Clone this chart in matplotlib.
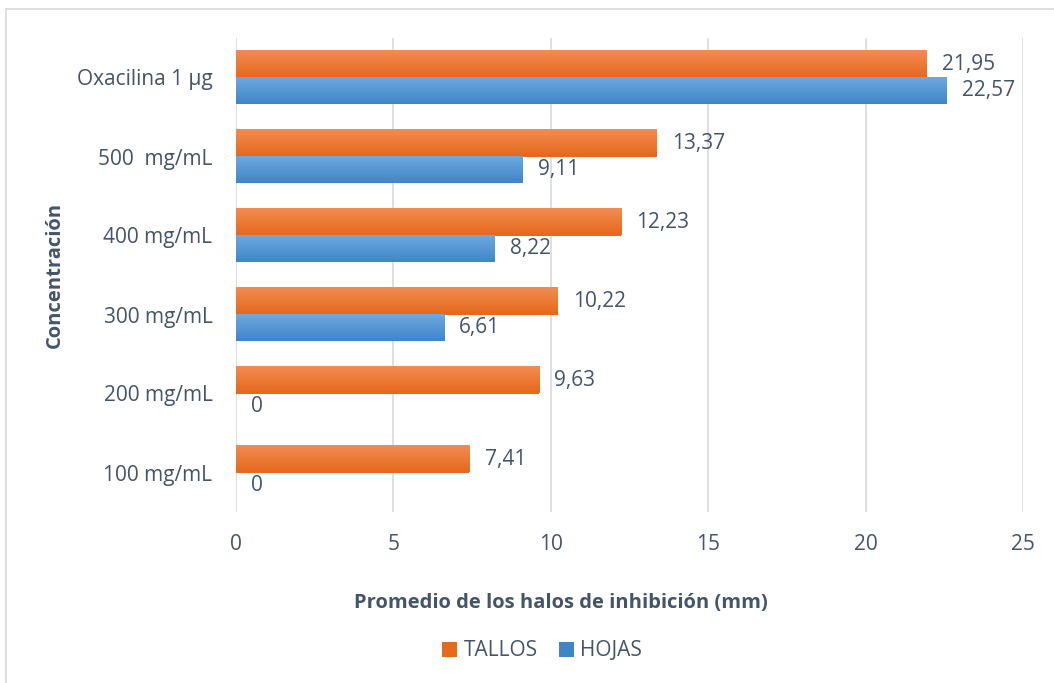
import numpy as np
import matplotlib
matplotlib.use("Agg")
import matplotlib.pyplot as plt
from matplotlib.colors import LinearSegmentedColormap
from matplotlib.patches import Rectangle, Patch

plt.rcParams["font.family"] = ["Open Sans", "DejaVu Sans"]

categories = ["100 mg/mL", "200 mg/mL", "300 mg/mL", "400 mg/mL", "500  mg/mL", "Oxacilina 1 µg"]
tallos = [7.41, 9.63, 10.22, 12.23, 13.37, 21.95]
hojas = [0, 0, 6.61, 8.22, 9.11, 22.57]
series_names = ["TALLOS", "HOJAS"]
x_ticks = [0, 5, 10, 15, 20, 25]

text_color = "#44546A"
grid_color = "#D9DDE3"
orange_top, orange_bot = "#F28C52", "#E6691C"
blue_top, blue_bot = "#6EA8E0", "#3F86C9"
fs = 15

W, H = 1054, 683
fig = plt.figure(figsize=(W / 100, H / 100), dpi=100)
fig.patch.set_facecolor("white")

# outer chart frame
fig.patches.append(Rectangle((6 / W, -0.01), 1.05, 1 - 9 / H + 0.01, transform=fig.transFigure,
                             fill=False, edgecolor="#D9D9D9", linewidth=1.2))

left, right = 236 / W, 1023 / W
top, bottom = 1 - 38 / H, 1 - 512 / H
ax = fig.add_axes([left, bottom, right - left, top - bottom])

bar_h = 0.335
y = np.arange(len(categories))


def grad_bars(vals, offset, c_top, c_bot, z):
    cmap = LinearSegmentedColormap.from_list("g", [c_bot, c_top])
    grad = np.linspace(0, 1, 64).reshape(-1, 1)
    bars = ax.barh(y + offset, vals, height=bar_h, color=c_bot, zorder=z, linewidth=0)
    for b in bars:
        x0, y0 = b.get_x(), b.get_y()
        w, h = b.get_width(), b.get_height()
        if w <= 0:
            continue
        ax.imshow(grad, extent=(x0, x0 + w, y0, y0 + h), origin="lower", cmap=cmap,
                  aspect="auto", zorder=z + 0.1, interpolation="bilinear")
    return bars


grad_bars(tallos, bar_h / 2, orange_top, orange_bot, 3)
grad_bars(hojas, -bar_h / 2, blue_top, blue_bot, 3)

for vals, off in ((tallos, bar_h / 2), (hojas, -bar_h / 2)):
    for yi, v in zip(y, vals):
        label = f"{v:.2f}".replace(".", ",") if v != 0 else "0"
        ax.annotate(label, (v, yi + off), xytext=(11, 0), textcoords="offset points",
                    ha="left", va="center", fontsize=fs, color=text_color)

ax.set_xlim(0, 25)
ax.set_ylim(-0.5, len(categories) - 0.5)
ax.set_xticks(x_ticks)
ax.set_xticklabels([str(t) for t in x_ticks], fontsize=fs, color=text_color)
ax.set_yticks(y)
ax.set_yticklabels(categories, fontsize=fs, color=text_color)
ax.tick_params(axis="both", length=0)
ax.tick_params(axis="x", pad=16)
ax.tick_params(axis="y", pad=17)
ax.grid(axis="x", color=grid_color, linewidth=1.3, zorder=0)
ax.set_axisbelow(True)
for s in ax.spines.values():
    s.set_visible(False)

fig.text(561 / W, 1 - 603 / H, "Promedio de los halos de inhibición (mm)",
         ha="center", va="center", fontsize=14.5, fontweight="bold", color=text_color)
fig.text(55 / W, 1 - 275 / H, "Concentración", ha="center", va="center", rotation=90,
         fontsize=14.5, fontweight="bold", color=text_color)

# legend
handles = [Patch(facecolor=orange_bot, label=series_names[0]),
           Patch(facecolor=blue_bot, label=series_names[1])]
fig.legend(handles=handles, loc="center", bbox_to_anchor=(542 / W, 1 - 651 / H), ncol=2,
           frameon=False, fontsize=fs, labelcolor=text_color, handlelength=0.75,
           handleheight=0.75, handletextpad=0.3, columnspacing=1.0)

fig.savefig("out.png", dpi=100, facecolor="white")
